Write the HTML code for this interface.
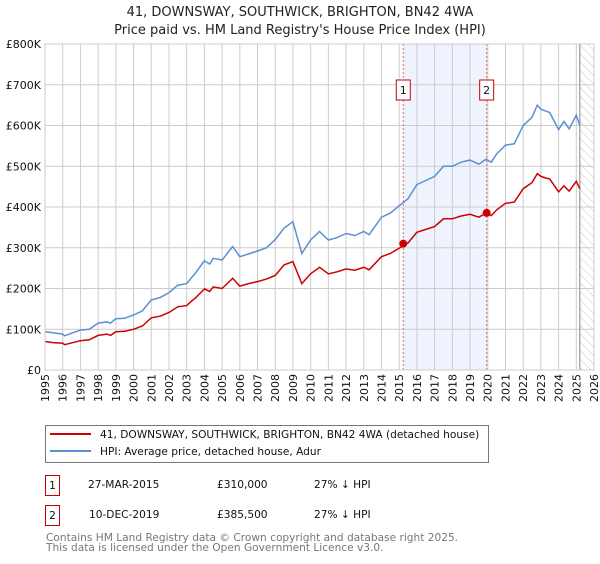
<!DOCTYPE html>
<html><head><meta charset="utf-8"><style>
body{margin:0;background:#fff;width:600px;height:560px;overflow:hidden;font-family:"DejaVu Sans","Liberation Sans",sans-serif;}
svg text{font-family:"DejaVu Sans","Liberation Sans",sans-serif;}
</style></head><body>
<svg id="chart" width="600" height="560" xmlns="http://www.w3.org/2000/svg">
<defs><pattern id="hatch" width="6" height="6" patternUnits="userSpaceOnUse" patternTransform="rotate(-45)"><line x1="0" y1="0" x2="0" y2="6" stroke="#c8c8c8" stroke-width="1"/></pattern></defs>
<text x="300" y="16" text-anchor="middle" font-size="13" fill="#222">41, DOWNSWAY, SOUTHWICK, BRIGHTON, BN42 4WA</text>
<text x="300" y="34" text-anchor="middle" font-size="13" fill="#222">Price paid vs. HM Land Registry's House Price Index (HPI)</text>
<g id="plot"></g>
<g>
<rect x="45.5" y="425.5" width="443" height="37" fill="#fff" stroke="#777"/>
<line x1="50" y1="434" x2="91" y2="434" stroke="#cc0000" stroke-width="2"/>
<text x="100" y="438" font-size="10.6" fill="#111">41, DOWNSWAY, SOUTHWICK, BRIGHTON, BN42 4WA (detached house)</text>
<line x1="50" y1="451" x2="91" y2="451" stroke="#5b8fd4" stroke-width="2"/>
<text x="100" y="455" font-size="10.6" fill="#111">HPI: Average price, detached house, Adur</text>
</g>
<g>
<rect x="45.5" y="475.5" width="14" height="20" fill="#fff" stroke="#cc0000"/>
<text x="52.5" y="489" text-anchor="middle" font-size="10.6" fill="#111">1</text>
<text x="88" y="488" font-size="10.6" fill="#111">27-MAR-2015</text>
<text x="217" y="488" font-size="10.6" fill="#111">£310,000</text>
<text x="314" y="488" font-size="10.6" fill="#111">27% ↓ HPI</text>
<rect x="45.5" y="505.5" width="14" height="20" fill="#fff" stroke="#cc0000"/>
<text x="52.5" y="519" text-anchor="middle" font-size="10.6" fill="#111">2</text>
<text x="89" y="518" font-size="10.6" fill="#111">10-DEC-2019</text>
<text x="217" y="518" font-size="10.6" fill="#111">£385,500</text>
<text x="314" y="518" font-size="10.6" fill="#111">27% ↓ HPI</text>
</g>
<text x="46" y="541" font-size="10.6" fill="#777">Contains HM Land Registry data © Crown copyright and database right 2025.</text>
<text x="46" y="551" font-size="10.6" fill="#777">This data is licensed under the Open Government Licence v3.0.</text>
</svg>
<script>
const hpiYears=[1995,1995.5,1996,1996.1,1997,1997.5,1998,1998.5,1998.7,1999,1999.5,2000,2000.5,2001,2001.5,2002,2002.5,2003,2003.3,2003.5,2004,2004.3,2004.5,2005,2005.6,2006,2006.5,2007,2007.5,2008,2008.5,2009,2009.5,2010,2010.5,2011,2011.5,2012,2012.5,2013,2013.3,2014,2014.5,2015.2,2015.5,2016,2016.5,2017,2017.5,2018,2018.5,2019,2019.5,2019.9,2020.2,2020.5,2021,2021.5,2022,2022.5,2022.8,2023,2023.3,2023.5,2024,2024.3,2024.6,2025,2025.2];
const hpiValues=[94,91,88,84,98,100,115,118,115,126,127,135,145,172,178,190,208,212,228,238,268,260,274,270,303,278,285,292,300,320,348,364,286,319,340,319,325,335,330,340,332,375,385,410,420,455,465,475,500,500,510,515,505,517,510,530,552,555,600,620,650,640,635,632,590,610,592,625,600];
const redValues=[70,67,66,62,72,74,85,88,85,94,95,100,108,128,132,141,155,158,170,177,199,193,204,200,225,206,212,217,223,232,258,266,212,236,252,236,241,248,245,252,246,278,286,304,312,338,345,352,371,371,378,382,375,385,379,393,409,412,445,460,482,475,471,469,437,452,439,463,445];
const sales=[{t:2015.23,v:310},{t:2019.94,v:385.5}];
const yTicks=[0,100,200,300,400,500,600,700,800];
const yTickLabels=["£0","£100K","£200K","£300K","£400K","£500K","£600K","£700K","£800K"];
const xTicks=[1995,1996,1997,1998,1999,2000,2001,2002,2003,2004,2005,2006,2007,2008,2009,2010,2011,2012,2013,2014,2015,2016,2017,2018,2019,2020,2021,2022,2023,2024,2025,2026];
const X0=45,X1=594,Y0=370,Y1=44;
const xs=t=>X0+(t-1995)/(2026-1995)*(X1-X0);
const ys=v=>Y0-v/800*(Y0-Y1);
const NS="http://www.w3.org/2000/svg";
const g=document.getElementById('plot');
function mk(tag,attrs){const e=document.createElementNS(NS,tag);for(const k in attrs)e.setAttribute(k,attrs[k]);g.appendChild(e);return e;}
let e;
e=mk('rect',{x:xs(sales[0].t),y:Y1,width:xs(sales[1].t)-xs(sales[0].t),height:Y0-Y1,fill:'#eef3fd'});


e=mk('rect',{x:xs(2025.2),y:Y1,width:X1-xs(2025.2),height:Y0-Y1,fill:'url(#hatch)'});


yTicks.forEach((v,i)=>{
 e=mk('line',{x1:X0,x2:X1,y1:ys(v),y2:ys(v),stroke:'#cccccc','stroke-width':1});
 
 
 e=mk('text',{x:X0-4,y:ys(v)+4,'text-anchor':'end','font-size':11,fill:'#111'});e.textContent=yTickLabels[i];
 
 
});
xTicks.forEach(t=>{
 e=mk('line',{x1:xs(t),x2:xs(t),y1:Y1,y2:Y0,stroke:'#cccccc','stroke-width':1});
 
 
 const x=xs(t)+4,y=Y0+4;
 e=mk('text',{x:x,y:y,'text-anchor':'end','font-size':11,fill:'#111',transform:`rotate(-90 ${x} ${y})`});e.textContent=t;
 
 
});
e=mk('line',{x1:xs(2025.2),x2:xs(2025.2),y1:Y1,y2:Y0,stroke:'#999','stroke-width':1.2});


sales.forEach((s,i)=>{
 e=mk('line',{x1:xs(s.t),x2:xs(s.t),y1:Y1,y2:Y0,stroke:'#ee6666','stroke-width':1,'stroke-dasharray':'2,2'});
 
 
});
const pts=(vals)=>hpiYears.map((t,i)=>xs(t).toFixed(1)+','+ys(vals[i]).toFixed(1)).join(' ');
e=mk('polyline',{points:pts(hpiValues),fill:'none',stroke:'#5b8fd4','stroke-width':1.5});


e=mk('polyline',{points:pts(redValues),fill:'none',stroke:'#cc0000','stroke-width':1.5});


sales.forEach((s,i)=>{
 e=mk('circle',{cx:xs(s.t),cy:ys(s.v),r:4,fill:'#cc0000'});
 
 
 e=mk('rect',{x:xs(s.t)-7,y:80,width:14,height:20,fill:'#fff',stroke:'#cc0000'});
 
 
 e=mk('text',{x:xs(s.t),y:94,'text-anchor':'middle','font-size':11,fill:'#111'});e.textContent=String(i+1);
 
 
});
e=mk('rect',{x:X0,y:Y1,width:X1-X0,height:Y0-Y1,fill:'none',stroke:'#cccccc'});


</script>
</body></html>
